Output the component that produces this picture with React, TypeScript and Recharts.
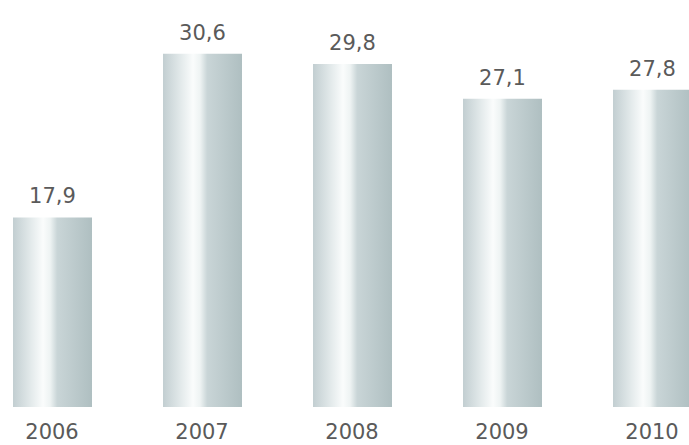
import { Bar, BarChart, LabelList, XAxis, YAxis } from 'recharts';

const years = ['2006', '2007', '2008', '2009', '2010'];
const values = [17.9, 30.6, 29.8, 27.1, 27.8];

const data = years.map((year, i) => ({ year, value: values[i] }));

const fmt = (v: number) => v.toFixed(1).replace('.', ',');

export default function App() {
  return (
    <div style={{ position: 'absolute', left: 0, top: 0, width: 689, height: 445, overflow: 'hidden', background: '#fff' }}>
      <BarChart
        width={750}
        height={445}
        data={data}
        margin={{ top: 46, right: 0, bottom: 0, left: 0 }}
        style={{ position: 'absolute', left: -23, top: 0 }}
        barCategoryGap={0}
      >
        <defs>
          <linearGradient id="silver" x1="0" y1="0" x2="1" y2="0">
            <stop offset="0%" stopColor="#c2ced1" />
            <stop offset="22%" stopColor="#e2e9ea" />
            <stop offset="38%" stopColor="#fafcfc" />
            <stop offset="47%" stopColor="#eef3f3" />
            <stop offset="56%" stopColor="#c9d5d7" />
            <stop offset="100%" stopColor="#afbfc1" />
          </linearGradient>
        </defs>
        <XAxis
          dataKey="year"
          axisLine={false}
          tickLine={false}
          height={38}
          tickMargin={11}
          tick={{ fill: '#5a5a5a', fontSize: 21, fontFamily: 'DejaVu Sans' }}
        />
        <YAxis hide domain={[3.2, 31.2]} allowDataOverflow />
        <Bar dataKey="value" fill="url(#silver)" barSize={79} isAnimationActive={false}>
          <LabelList
            dataKey="value"
            position="top"
            offset={14}
            formatter={(v: number) => fmt(v)}
            style={{ fill: '#5a5a5a', fontSize: 21, fontFamily: 'DejaVu Sans' }}
          />
        </Bar>
      </BarChart>
    </div>
  );
}
